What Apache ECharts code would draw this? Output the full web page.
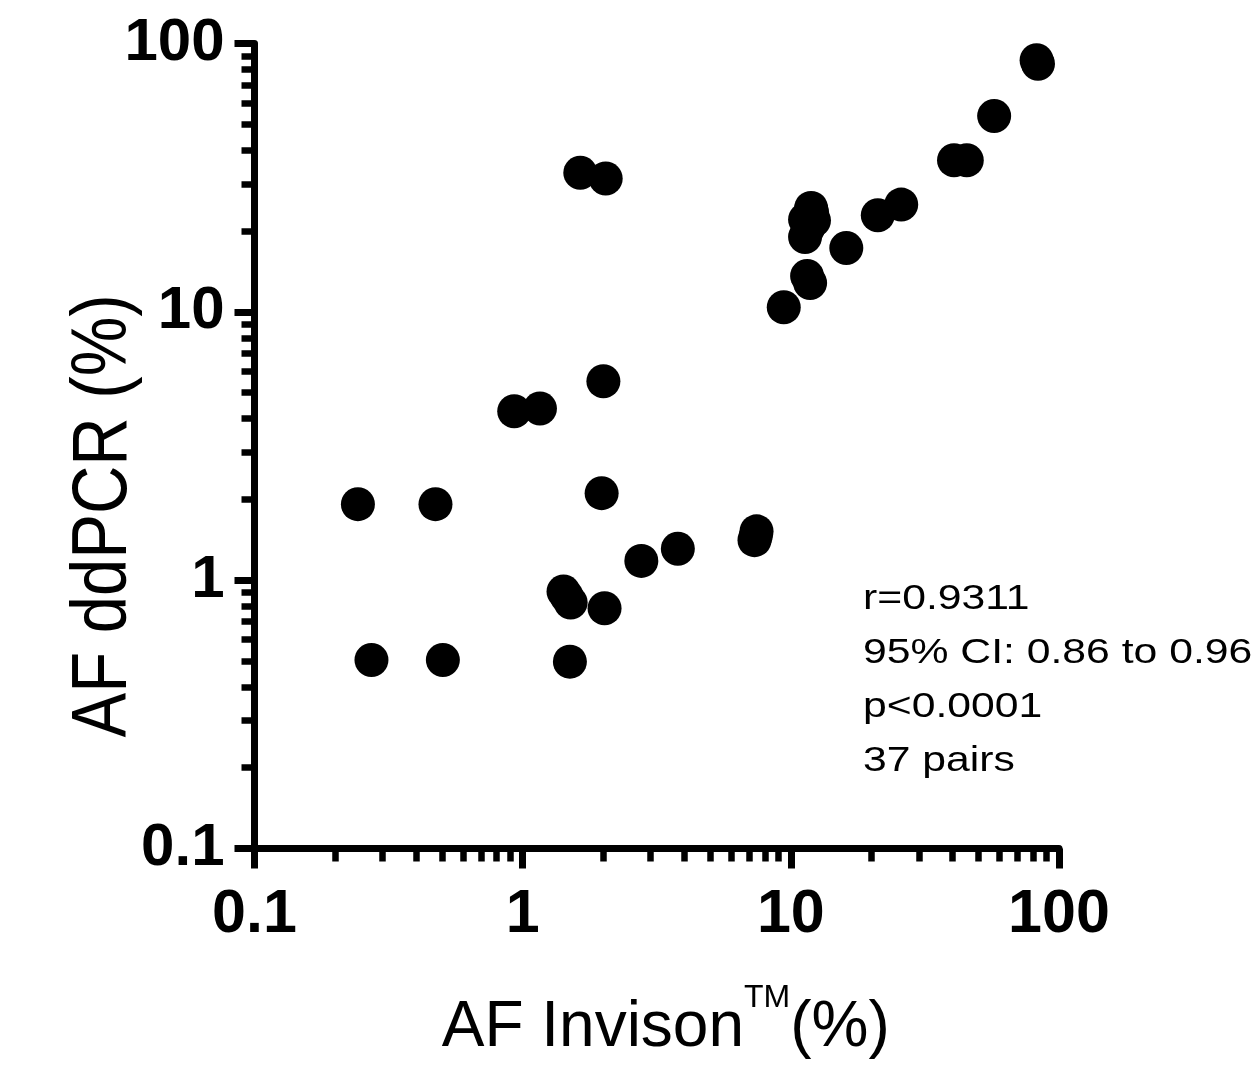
<!DOCTYPE html>
<html>
<head>
<meta charset="utf-8">
<script src="https://cdn.jsdelivr.net/npm/echarts@6/dist/echarts.min.js"></script>
<style>
html,body{margin:0;padding:0;background:#fff;}
#chart{width:1260px;height:1072px;}
</style>
</head>
<body>
<div id="chart"></div>
<script>
// AF measured by Invison (x) and by ddPCR (y), in %
const afInvison = [82.5, 83.5, 57.3, 40.6, 45.3, 25.8, 21.1, 11.9, 11.3, 12.2, 12.0, 11.6, 11.3, 16.1, 11.5, 11.8, 9.41,
  1.64, 2.04, 2.0, 0.93, 1.16, 0.243, 0.473, 1.97, 7.45, 7.32, 7.4, 3.79, 2.77, 1.42, 1.46, 1.51, 2.02, 0.273, 0.504, 1.50];
const afDdpcr = [86.6, 84.0, 53.7, 36.7, 36.7, 25.1, 22.9, 24.4, 22.1, 21.9, 23.5, 20.5, 19.0, 17.3, 13.6, 12.8, 10.4,
  33.0, 31.4, 5.51, 4.26, 4.36, 1.92, 1.92, 2.11, 1.52, 1.41, 1.46, 1.31, 1.18, 0.907, 0.87, 0.826, 0.786, 0.504, 0.504, 0.497];
const majorTicks = [0.1, 1, 10, 100];
const minorTicks = [0.2, 0.3, 0.4, 0.5, 0.6, 0.7, 0.8, 0.9, 2, 3, 4, 5, 6, 7, 8, 9, 20, 30, 40, 50, 60, 70, 80, 90];
const statLines = ['r=0.9311', '95% CI: 0.86 to 0.96', 'p<0.0001', '37 pairs'];
const yTitle = 'AF ddPCR (%)';

const chart = echarts.init(document.getElementById('chart'), null, {renderer: 'canvas'});
const points = afInvison.map((x, i) => [x, afDdpcr[i]]);
const fmt = v => String(v);

function mainAxis(isX) {
  return {
    type: 'log', logBase: 10, min: 0.1, max: 100,
    position: isX ? 'bottom' : 'left',
    axisLine: {show: true, onZero: false, lineStyle: {color: '#000', width: 7}},
    axisTick: {show: true, customValues: majorTicks, length: 20, lineStyle: {color: '#000', width: 7}},
    minorTick: {show: false},
    splitLine: {show: false},
    axisLabel: isX ? {
      customValues: majorTicks, formatter: fmt, margin: 36,
      fontFamily: "'Liberation Sans', Arial, sans-serif",
      fontWeight: 'bold', fontSize: 61, color: '#000'
    } : {
      customValues: majorTicks, formatter: fmt, margin: 30,
      fontFamily: "'Liberation Sans', Arial, sans-serif",
      fontWeight: 'bold', fontSize: 60, color: '#000'
    }
  };
}
function minorAxis(isX) {
  return {
    type: 'log', logBase: 10, min: 0.1, max: 100,
    position: isX ? 'bottom' : 'left',
    axisLine: {show: false},
    axisTick: {show: true, customValues: minorTicks, length: 13, lineStyle: {color: '#000', width: 6.5}},
    axisLabel: {show: false},
    splitLine: {show: false}
  };
}

const xMain = mainAxis(true);
xMain.name = '{a|AF Invison}{t|TM}{a|(%)}';
xMain.nameLocation = 'middle';
xMain.nameGap = 134;
xMain.nameTextStyle = {
  padding: [0, 0, 0, 18],
  rich: {
    a: {fontFamily: "'Liberation Sans', Arial, sans-serif", fontSize: 64, lineHeight: 92, color: '#000'},
    t: {fontFamily: "'Liberation Sans', Arial, sans-serif", fontSize: 32, lineHeight: 32, verticalAlign: 'top', color: '#000'}
  }
};
const yMain = mainAxis(false);

chart.setOption({
  animation: false,
  backgroundColor: '#fff',
  grid: {left: 254.5, right: 201, top: 43.5, bottom: 223.5, containLabel: false},
  xAxis: [xMain, minorAxis(true)],
  yAxis: [yMain, minorAxis(false)],
  series: [{
    type: 'scatter', xAxisIndex: 0, yAxisIndex: 0,
    data: points, symbol: 'circle', symbolSize: 34,
    itemStyle: {color: '#000', opacity: 1}
  }],
  graphic: [{
    type: 'text', x: 863, y: 572, scaleX: 1.22, scaleY: 1,
    style: {
      text: statLines.join('\n'),
      font: "35px 'Liberation Sans', Arial, sans-serif",
      lineHeight: 54, fill: '#000', textVerticalAlign: 'top', textAlign: 'left'
    }
  }, {
    type: 'text', x: 104, y: 516, rotation: Math.PI / 2, scaleX: 1, scaleY: 1.17,
    style: {
      text: yTitle,
      font: "67px 'Liberation Sans', Arial, sans-serif",
      fill: '#000', textAlign: 'center', textVerticalAlign: 'middle'
    }
  }]
});
</script>
</body>
</html>
